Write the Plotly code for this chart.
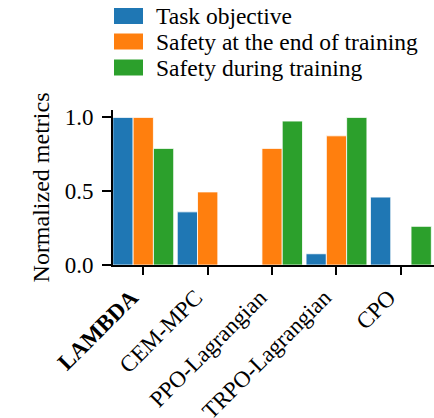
import plotly.graph_objects as go

# methods on the x axis, the first one is ours (bold)
methods = ["LAMBDA", "CEM-MPC", "PPO-Lagrangian", "TRPO-Lagrangian", "CPO"]
method_labels = ["<b>LAMBDA</b>", "CEM-MPC", "PPO-Lagrangian", "TRPO-Lagrangian", "CPO"]

series_names = ["Task objective", "Safety at the end of training", "Safety during training"]
task_objective = [1.0, 0.36, 0.0, 0.076, 0.46]
safety_end = [1.0, 0.495, 0.79, 0.875, 0.0]
safety_during = [0.79, 0.0, 0.975, 1.0, 0.262]

colors = ["#1f77b4", "#ff7f0e", "#2ca02c"]
values = [task_objective, safety_end, safety_during]

W, H = 434, 418
ML, MR, MT, MB = 113, 0, 110, 153
FONT = "Liberation Serif"

fig = go.Figure()
for name, vals, col in zip(series_names, values, colors):
    fig.add_trace(go.Bar(
        x=list(range(len(methods))), y=vals, name=name,
        marker=dict(color=col, line=dict(color="white", width=0.8)),
        showlegend=False,
    ))

# hand made legend with wide swatches like the matplotlib one
plot_w = W - ML - MR
plot_h = H - MT - MB
def px_to_paper(px, py):
    return (px - ML) / plot_w, (H - MB - py) / plot_h

row_centers = [16, 41.5, 67.5]
for name, col, yc in zip(series_names, colors, row_centers):
    x0, y0 = px_to_paper(114, yc + 8)
    x1, y1 = px_to_paper(143, yc - 8)
    fig.add_shape(type="rect", xref="paper", yref="paper",
                  x0=x0, x1=x1, y0=y0, y1=y1,
                  fillcolor=col, line=dict(width=0))
    tx, ty = px_to_paper(154, yc)
    fig.add_annotation(text=name, xref="paper", yref="paper", x=tx, y=ty,
                       xanchor="left", yanchor="middle", showarrow=False,
                       font=dict(size=23.5, color="black", family=FONT))

fig.update_layout(
    width=W, height=H,
    margin=dict(l=ML, r=MR, t=MT, b=MB),
    barmode="group", bargap=0.055, bargroupgap=0,
    plot_bgcolor="white", paper_bgcolor="white",
    font=dict(family=FONT, size=23, color="black"),
)
fig.update_xaxes(
    range=[-0.47, 4.514], automargin=False,
    tickmode="array", tickvals=list(range(len(methods))), ticktext=method_labels,
    tickangle=-45, ticklabelshift=-12,
    ticks="outside", ticklen=8, tickwidth=1.5, tickcolor="black",
    showline=True, linecolor="black", linewidth=2, showgrid=False, zeroline=False,
    tickfont=dict(size=23, family=FONT),
)
fig.update_yaxes(
    range=[0, 1.05], automargin=False,
    tickvals=[0, 0.5, 1.0], ticktext=["0.0", "0.5", "1.0"],
    ticklabelstandoff=4,
    ticks="outside", ticklen=9, tickwidth=1.5, tickcolor="black",
    showline=True, linecolor="black", linewidth=2, showgrid=False, zeroline=False,
    tickfont=dict(size=23, family=FONT),
    title=dict(text="Normalized metrics", font=dict(size=24, family=FONT), standoff=8),
)

# drop the page's default body margin so the figure sits at the top-left corner
fig.write_html("out.html", config={"displayModeBar": False},
               post_script="document.body.style.margin='0';")
